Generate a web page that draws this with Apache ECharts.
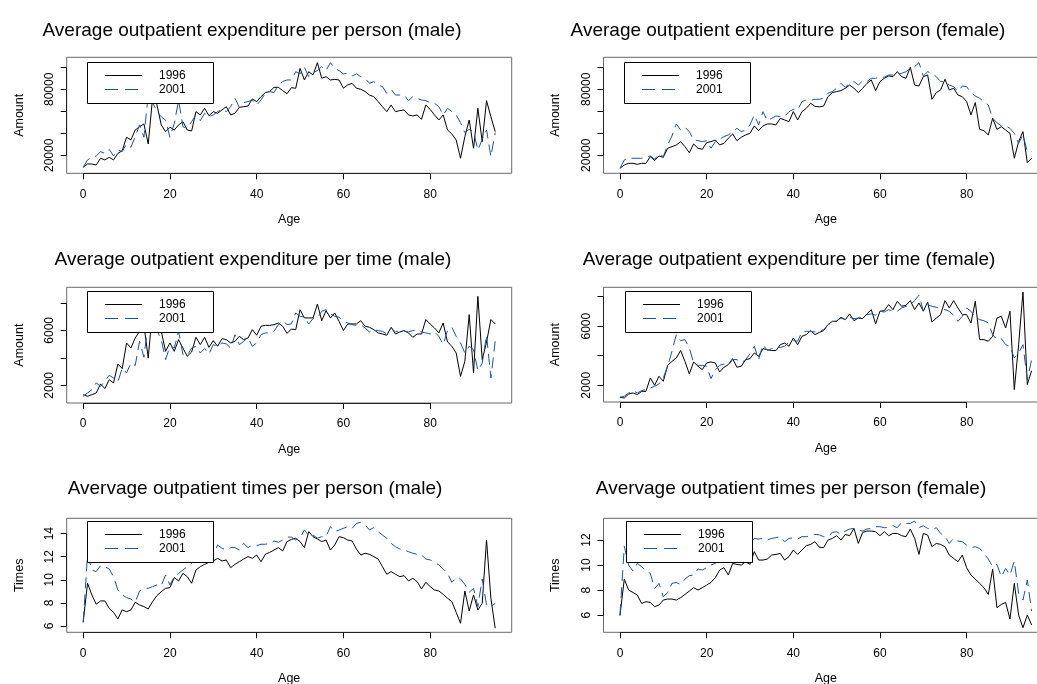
<!DOCTYPE html>
<html>
<head>
<meta charset="utf-8">
<script src="https://cdn.jsdelivr.net/npm/echarts@6/dist/echarts.min.js"></script>
<style>
  html, body { margin: 0; padding: 0; background: #fff; overflow: hidden; }
  #chart { width: 1037px; height: 684px; }
</style>
</head>
<body>
<div id="chart"></div>
<script>
// Ages 0..95
const ages = [0,1,2,3,4,5,6,7,8,9,10,11,12,13,14,15,16,17,18,19,20,21,22,23,24,25,26,27,28,29,30,31,32,33,34,35,36,37,38,39,40,41,42,43,44,45,46,47,48,49,50,51,52,53,54,55,56,57,58,59,60,61,62,63,64,65,66,67,68,69,70,71,72,73,74,75,76,77,78,79,80,81,82,83,84,85,86,87,88,89,90,91,92,93,94,95];

const seriesNames = ['1996', '2001'];
const xTicks = [0, 20, 40, 60, 80];

// Average outpatient expenditure per person, male
const perPersonMale1996 = [9100,12100,12100,11200,17300,15800,18200,15800,21800,24200,36400,34000,43000,46000,48500,30300,72000,66000,47600,41500,45500,43000,47600,50600,43000,42100,59700,56700,62700,56000,59700,58200,61200,64200,56700,58200,63600,64200,64800,71200,68800,73300,77000,77900,81800,81800,78800,76000,81500,80900,99000,88500,96000,93000,104200,90000,91500,88500,89000,88500,81000,84000,85400,81000,80000,78000,74800,73300,68800,64200,59700,65700,59700,60600,61200,56700,55800,56700,52700,65700,61800,56700,52100,56700,43000,39400,33900,17300,37000,52100,26400,62700,32400,69700,55000,41500];
const perPersonMale2001 = [9100,15800,18200,19400,23300,21800,25500,19400,24800,23300,30300,27300,37000,47600,36400,75000,68000,60000,55000,52000,36400,49000,70000,46000,44500,50600,56700,51500,58200,55000,56700,59700,61800,59700,64200,71800,63600,67900,68800,70300,65700,70300,76400,77900,77000,83900,87000,88500,88500,96000,94000,100000,91500,95100,97000,100600,97000,104200,99000,97000,94000,94500,92100,94000,91500,90000,85400,87000,84000,82400,76400,80000,74800,74800,74800,69700,73300,71800,70300,69700,67900,67300,64200,56700,62700,59700,56700,49700,40600,43600,41500,24800,34500,43000,18800,40600];

// Average outpatient expenditure per person, female
const perPersonFemale1996 = [8200,11200,12700,12700,11800,12700,12700,18800,15200,19400,18200,26400,27900,29400,32400,27900,22400,30300,26400,25500,31500,32400,33900,29400,30900,35500,39400,33300,36400,38500,40000,46700,42400,46700,48500,48500,47600,53600,52100,50600,59700,52100,59700,62700,67300,64500,64000,64800,73300,77000,77900,78800,80900,83900,80900,77000,80900,85400,88500,78800,87000,90000,92100,91500,96000,91500,90000,100000,83900,83000,91500,93000,70900,77000,79400,89100,79400,80900,74800,73300,68800,56700,67900,43600,42400,38500,53600,43600,46000,43000,40000,17300,32400,41500,13300,17300];
const perPersonFemale2001 = [8200,15800,17300,17300,17300,17300,18200,19400,16400,21200,18800,29400,37600,48500,43000,45500,41500,33900,33300,32400,33300,26400,32400,34500,37000,38500,41500,44500,41500,43000,47600,56700,47600,59700,51500,53600,55800,55100,55100,59700,61800,61200,68800,70300,70000,70900,70900,71800,76400,77900,80900,85400,81800,85400,87000,83900,87600,87000,90000,90000,91500,91000,93000,93000,94000,94500,96000,99000,100600,104200,92100,96000,94500,91500,87000,87000,83900,82400,77900,83000,82400,77000,73900,71800,68800,65700,53600,49700,46700,46700,44500,40000,30900,38500,23300,23300];

// Average outpatient expenditure per visit, male
const perTimeMale1996 = [1320,1200,1320,1440,2100,1760,2410,2170,3550,3210,5080,4710,5440,5930,6410,3990,7500,7000,5930,4470,5080,4470,5320,4710,4110,4420,5490,4960,5490,4760,5250,4840,5390,5320,5080,5200,5560,5320,5440,6050,5640,6290,6360,6360,6410,6530,6290,5770,6090,6050,7500,6900,6900,6900,7910,6700,7430,6900,7260,6650,5980,6460,6460,6460,6700,6290,6220,6050,5810,5730,5640,6220,5730,5880,5980,5810,5490,5730,5730,6780,6460,6170,5810,6530,5150,4840,4350,2650,3750,7140,2900,8470,3870,5150,6780,6460];
const perTimeMale2001 = [1200,1440,1680,2170,1930,2290,2730,2530,2240,3260,2900,3620,3450,5200,4040,6600,6400,6000,5320,3870,4840,4710,5930,4230,4180,4710,4840,4350,4670,4280,4960,4840,5080,5010,4710,5680,4960,5200,5440,4840,5080,5680,5810,5810,5930,6410,6700,6410,6470,7260,7020,6950,6460,6850,6900,7380,7500,7190,7020,6950,6650,6530,6410,6360,6410,6170,5880,6050,5980,5930,5730,6170,5880,5980,5930,5880,5980,6050,5880,5810,5730,5880,5560,4960,5980,6220,5560,5080,4350,4840,4590,3070,3620,5640,2530,5200];

// Average outpatient expenditure per visit, female
const perTimeFemale1996 = [1190,1140,1410,1480,1370,1590,1590,2500,2000,2610,2270,3350,3620,3850,4350,3620,2770,3580,3290,3060,3510,3580,3510,2900,3220,3400,3800,3220,3290,3740,3800,4190,3960,4480,4410,4350,4350,4750,4860,4640,5200,4750,5310,5430,5700,5430,5580,5700,6100,6330,6330,6600,6440,6830,6370,6550,6510,6830,7120,6150,7010,7050,7460,7120,7680,7340,7410,7730,7120,7570,7010,7640,6280,6550,6780,7730,7230,7730,7230,6780,6780,6220,7680,5090,5090,4980,5310,6550,6670,5880,7010,1710,4750,8310,2050,2990];
const perTimeFemale2001 = [1190,1260,1480,1640,1480,1640,1710,1820,1930,2090,2500,3290,4300,5430,5020,5090,4530,3510,3350,3350,3290,2450,3060,3350,3440,3350,3740,3740,3510,3740,4120,4640,3740,4750,4350,4480,4530,4570,4640,4930,5020,4980,5610,5650,5650,5610,5650,5770,6100,6220,6370,6550,6440,6600,6510,6550,6600,6780,6830,6740,7010,6960,7120,7010,7010,7230,7340,7460,7730,8090,7050,7460,7340,7280,7190,7120,7010,6740,6330,6670,7230,7010,6600,6440,6370,6220,5430,5090,5160,4750,4640,3850,4190,4750,2380,3740];

// Average outpatient visits per person, male
const timesMale1996 = [6.32,9.70,8.69,7.88,8.17,8.17,7.53,7.18,6.61,7.39,7.24,7.39,8.05,7.82,7.68,7.47,8.11,8.63,8.97,9.26,9.32,10.19,9.90,10.56,10.27,9.70,10.85,11.14,11.34,11.52,11.63,11.86,11.63,11.72,11.05,11.34,11.57,11.80,12.01,11.86,12.15,11.57,12.21,12.38,12.58,12.79,12.50,13.31,13.50,13.60,13.31,12.79,14.17,13.74,13.54,13.31,13.45,12.58,13.02,13.74,13.65,13.45,13.36,12.67,12.15,12.30,12.21,12.01,11.80,11.14,10.48,10.71,10.48,10.27,10.36,9.90,10.13,9.84,9.21,9.78,9.41,9.12,9.03,8.74,8.40,8.11,7.18,6.23,9.03,7.30,8.69,7.39,7.96,13.45,8.40,5.80];
const timesMale2001 = [6.32,12.20,10.85,10.71,11.23,11.14,10.94,10.27,9.12,8.69,8.45,8.34,8.05,9.03,9.26,9.26,9.41,9.55,9.49,10.42,9.55,10.27,10.56,10.85,11.14,11.43,11.80,12.00,12.20,12.40,12.20,13.02,12.73,12.58,12.79,12.79,12.58,13.16,12.79,13.02,12.96,13.08,13.08,13.16,13.36,13.25,13.45,13.70,13.70,13.45,13.60,14.32,13.83,13.88,13.60,13.74,13.74,14.61,14.17,14.32,14.46,14.61,14.46,14.89,14.98,14.75,14.32,14.52,14.17,13.88,13.60,13.16,12.87,12.67,12.58,12.44,12.30,12.21,12.15,11.80,11.72,11.52,11.29,10.94,10.56,9.78,10.19,10.07,9.61,8.92,9.26,7.68,10.07,7.82,7.68,7.96];

// Average outpatient visits per person, female
const timesFemale1996 = [5.95,8.88,8.00,7.81,7.60,6.93,7.07,7.01,6.67,6.80,7.20,7.28,7.28,7.20,7.39,7.65,7.92,8.19,8.00,8.19,8.40,8.61,8.99,9.60,9.79,9.20,10.13,10.05,10.00,10.27,10.05,11.07,10.40,10.40,10.48,10.80,10.85,10.93,10.40,10.67,11.20,10.85,11.20,11.55,11.65,11.87,11.43,11.39,12.00,12.13,12.35,12.00,12.45,12.35,12.93,11.73,12.61,12.72,12.72,12.67,12.35,12.67,12.35,12.53,12.53,12.35,12.27,12.88,12.13,10.85,12.53,12.40,11.47,11.73,11.65,11.47,10.80,10.53,10.27,10.80,9.79,9.20,8.88,8.53,8.19,7.65,9.68,6.59,6.85,7.01,5.68,8.53,6.00,4.99,6.00,5.20];
const timesFemale2001 = [6.00,11.50,10.00,9.52,10.13,9.87,9.52,9.33,8.13,8.53,7.47,7.81,8.53,8.61,8.45,8.88,9.15,9.20,9.68,9.60,9.79,10.00,10.13,10.40,10.53,11.00,11.30,11.60,11.80,11.90,11.75,12.13,12.08,12.13,12.00,12.13,12.19,12.27,11.87,12.13,12.19,12.08,12.27,12.27,12.35,12.45,12.42,12.27,12.27,12.61,12.67,12.45,12.72,12.88,12.93,12.80,12.72,12.88,12.93,13.07,13.07,12.99,12.99,13.15,12.99,13.41,13.33,13.33,13.52,12.99,13.15,12.93,12.80,12.99,12.53,12.27,11.73,12.13,11.92,11.87,11.60,11.39,11.47,11.33,10.93,10.48,9.87,10.05,9.07,9.73,9.20,10.32,7.73,7.20,8.80,6.32];

// Panel titles and y-axis tick/label values
const panelTitles = [
  'Average outpatient expenditure per person (male)',
  'Average outpatient expenditure per person (female)',
  'Average outpatient expenditure per time (male)',
  'Average outpatient expenditure per time (female)',
  'Avervage outpatient times per person (male)',
  'Avervage outpatient times per person (female)'
];
const yNames = ['Amount', 'Amount', 'Amount', 'Amount', 'Times', 'Times'];
const yTickValues = [
  [20000, 40000, 60000, 80000, 100000],
  [20000, 40000, 60000, 80000, 100000],
  [2000, 4000, 6000, 8000],
  [2000, 4000, 6000, 8000],
  [6, 8, 10, 12, 14],
  [6, 8, 10, 12]
];
const yLabelValues = [
  [20000, 80000],
  [20000, 80000],
  [2000, 6000],
  [2000, 6000],
  [6, 8, 10, 12, 14],
  [6, 8, 10, 12]
];
const panelData = [
  [perPersonMale1996, perPersonMale2001],
  [perPersonFemale1996, perPersonFemale2001],
  [perTimeMale1996, perTimeMale2001],
  [perTimeFemale1996, perTimeFemale2001],
  [timesMale1996, timesMale2001],
  [timesFemale1996, timesFemale2001]
];

// ---- layout ----
const FONT = '"Liberation Sans", Arial, Helvetica, sans-serif';
const BLUE = '#1b559a';
const DASH = [11, 6];
const XMIN = -3.8, XMAX = 98.8;
// plot boxes (left, top, width, height) and y ranges of each panel;
// the right-hand column runs slightly past the canvas edge
const boxes = [
  { left: 66.7, top: 57.3, width: 445, height: 116,   ymin: 3640, ymax: 109080 },
  { left: 603.5, top: 57.3, width: 444.6, height: 116, ymin: 3640, ymax: 109080 },
  { left: 66.7, top: 287.3, width: 445, height: 115.7, ymin: 713, ymax: 9127 },
  { left: 603.5, top: 287.3, width: 444.6, height: 114.7, ymin: 870, ymax: 8630 },
  { left: 66.7, top: 518.3, width: 445, height: 114,   ymin: 5.45, ymax: 15.33 },
  { left: 603.5, top: 518.3, width: 444.6, height: 114, ymin: 4.62, ymax: 13.74 }
];
const titlePos = [[252, 30.5], [788, 30.5], [253, 259.5], [789, 259.5], [255, 488.5], [791, 488.5]];
const legendPos = [[87, 62], [624, 62], [87, 291], [625, 291], [87, 521], [626, 521]];

const grids = [], xAxes = [], yAxes = [], series = [], graphics = [];

boxes.forEach((b, i) => {
  grids.push({
    left: b.left, top: b.top, width: b.width, height: b.height,
    outerBoundsMode: 'none', containLabel: false,
    show: true, borderColor: '#6a6a6a', borderWidth: 1, backgroundColor: 'transparent'
  });
  xAxes.push({
    type: 'value', gridIndex: i, min: XMIN, max: XMAX,
    axisLine: { show: false, onZero: false },
    splitLine: { show: false },
    axisTick: { show: true, customValues: xTicks, length: 6, lineStyle: { color: '#000', width: 1 } },
    axisLabel: { customValues: xTicks, fontSize: 12, color: '#000', fontFamily: FONT, margin: 15 },
    name: 'Age', nameLocation: 'middle', nameGap: 40,
    nameTextStyle: { fontSize: 12.5, color: '#000', fontFamily: FONT }
  });
  yAxes.push({
    type: 'value', gridIndex: i, min: b.ymin, max: b.ymax,
    axisLine: { show: false, onZero: false },
    splitLine: { show: false },
    axisTick: { show: true, customValues: yTickValues[i], length: 6, lineStyle: { color: '#000', width: 1 } },
    axisLabel: { customValues: yLabelValues[i], rotate: 90, fontSize: 12, color: '#000', fontFamily: FONT, margin: 11,
                 formatter: (v) => String(v) },
    name: yNames[i], nameLocation: 'middle', nameGap: 41, nameRotate: 90,
    nameTextStyle: { fontSize: 12.5, color: '#000', fontFamily: FONT }
  });
  const yt = yTickValues[i];
  panelData[i].forEach((vals, k) => {
    const s = {
      type: 'line', name: seriesNames[k], xAxisIndex: i, yAxisIndex: i,
      data: ages.map((a, j) => [a, vals[j]]),
      symbol: 'none', clip: true, animation: false,
      lineStyle: k === 0 ? { color: '#000', width: 1 } : { color: BLUE, width: 1, type: DASH },
      itemStyle: { color: k === 0 ? '#000' : BLUE },
      z: 2
    };
    if (k === 0) {
      // axis lines spanning first to last tick along the box edges
      s.markLine = {
        silent: true, symbol: 'none', animation: false,
        label: { show: false },
        lineStyle: { color: '#222', width: 1, type: 'solid' },
        data: [
          [{ coord: [xTicks[0], b.ymin] }, { coord: [xTicks[xTicks.length - 1], b.ymin] }],
          [{ coord: [XMIN, yt[0]] }, { coord: [XMIN, yt[yt.length - 1]] }]
        ]
      };
    }
    series.push(s);
  });

  // panel title
  graphics.push({
    type: 'text', z: 100,
    style: { text: panelTitles[i], x: titlePos[i][0], y: titlePos[i][1], align: 'center', verticalAlign: 'middle',
             font: '19px ' + FONT, fill: '#000' }
  });

  // legend box
  const lx = legendPos[i][0], ly = legendPos[i][1];
  graphics.push({
    type: 'rect', z: 100,
    shape: { x: lx + 0.5, y: ly + 0.5, width: 126, height: 41 },
    style: { fill: '#fff', stroke: '#000', lineWidth: 1 }
  });
  graphics.push({
    type: 'line', z: 101,
    shape: { x1: lx + 18, y1: ly + 13.5, x2: lx + 55, y2: ly + 13.5 },
    style: { stroke: '#000', lineWidth: 1 }
  });
  graphics.push({
    type: 'line', z: 101,
    shape: { x1: lx + 18, y1: ly + 27.5, x2: lx + 55, y2: ly + 27.5 },
    style: { stroke: BLUE, lineWidth: 1, lineDash: [13, 7] }
  });
  seriesNames.forEach((nm, k) => {
    graphics.push({
      type: 'text', z: 101,
      style: { text: nm, x: lx + 72, y: ly + 14 + 14 * k, align: 'left', verticalAlign: 'middle',
               font: '12px ' + FONT, fill: '#000' }
    });
  });
});

const chart = echarts.init(document.getElementById('chart'), null, { renderer: 'canvas' });
chart.setOption({
  animation: false,
  backgroundColor: '#fff',
  textStyle: { fontFamily: FONT },
  grid: grids,
  xAxis: xAxes,
  yAxis: yAxes,
  series: series,
  graphic: { elements: graphics }
});
</script>
</body>
</html>
